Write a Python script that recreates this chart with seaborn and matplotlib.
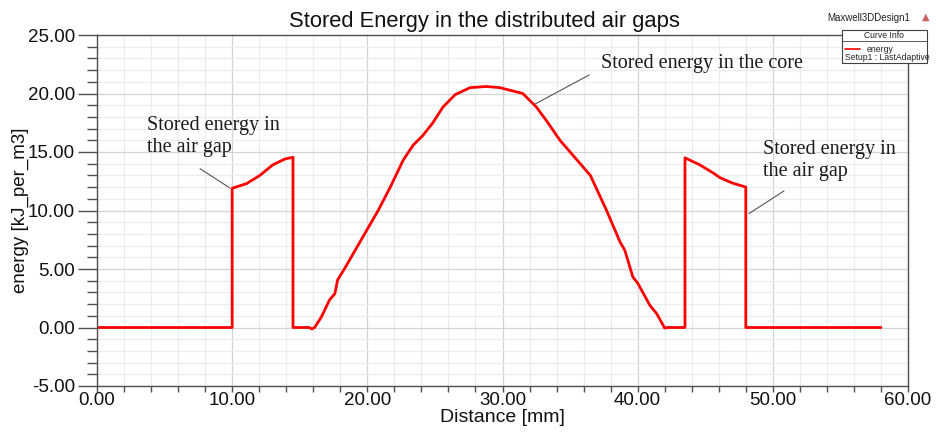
import matplotlib
matplotlib.use("Agg")
import matplotlib.pyplot as plt
import seaborn as sns
import pandas as pd
from matplotlib.ticker import MultipleLocator, FormatStrFormatter
from matplotlib.patches import Rectangle
from matplotlib.lines import Line2D

# ---- data ----
distance = [0.0, 10.0, 10.0, 11.07, 12.05, 13.0, 13.9, 14.5, 14.5, 15.7, 15.9, 16.1,
            16.6, 17.2, 17.6, 17.8, 18.3, 19.0, 20.0, 20.8, 21.7, 22.65, 23.4, 24.1,
            24.85, 25.6, 26.5, 27.6, 28.8, 29.8, 31.5, 32.5, 33.3, 34.25, 35.0, 36.5,
            37.7, 38.7, 39.05, 39.65, 40.0, 40.9, 41.4, 42.0, 42.2, 43.5, 43.5, 44.6,
            45.6, 46.1, 47.0, 48.0, 48.0, 58.0]
energy = [0.0, 0.0, 11.9, 12.3, 13.0, 13.9, 14.4, 14.55, 0.0, 0.0, -0.13, 0.0,
          0.9, 2.35, 2.9, 4.06, 5.0, 6.4, 8.4, 10.0, 12.0, 14.3, 15.6, 16.4,
          17.5, 18.85, 19.9, 20.5, 20.6, 20.5, 20.0, 18.85, 17.6, 16.0, 15.0, 13.0,
          10.0, 7.3, 6.6, 4.3, 3.8, 1.9, 1.2, -0.05, 0.0, 0.0, 14.5, 13.9,
          13.2, 12.8, 12.35, 12.0, 0.0, 0.0]

title = "Stored Energy in the distributed air gaps"
xlabel = "Distance [mm]"
ylabel = "energy [kJ_per_m3]"
ann_airgap = "Stored energy in\nthe air gap"
ann_core = "Stored energy in the core"

df = pd.DataFrame({"Distance": distance, "energy": energy})

sns.set_style("white")
plt.rcParams["font.family"] = ["Liberation Sans", "DejaVu Sans"]

W, H = 936, 432
fig = plt.figure(figsize=(W / 100, H / 100), dpi=100)
ax = fig.add_axes([97 / W, 1 - 386 / H, (908 - 97) / W, (386 - 35) / H])

sns.lineplot(data=df, x="Distance", y="energy", ax=ax, estimator=None, sort=False,
             color="#ff0000", lw=2.0)

ax.set_xlim(0, 60)
ax.set_ylim(-5, 25)
ax.xaxis.set_major_locator(MultipleLocator(10))
ax.xaxis.set_minor_locator(MultipleLocator(2))
ax.yaxis.set_major_locator(MultipleLocator(5))
ax.yaxis.set_minor_locator(MultipleLocator(1))
ax.xaxis.set_major_formatter(FormatStrFormatter("%.2f"))
ax.yaxis.set_major_formatter(FormatStrFormatter("%.2f"))

ax.grid(True, which="major", color="#d4d4d4", lw=0.9)
ax.grid(True, which="minor", color="#ececec", lw=0.9)
ax.set_axisbelow(True)

for s in ax.spines.values():
    s.set_color("#505050")
    s.set_linewidth(1.0)

ax.tick_params(axis="both", which="major", labelsize=13.5, colors="#505050",
               labelcolor="#111111", direction="out")
ax.tick_params(axis="y", which="major", length=14, width=1.0, pad=2)
ax.tick_params(axis="y", which="minor", length=7, width=1.0, color="#505050")
ax.tick_params(axis="x", which="major", length=4, width=1.0, pad=0)
ax.tick_params(axis="x", which="minor", length=4, width=1.0, color="#505050")
ax.tick_params(bottom=True, left=True, which="both")

ax.set_xlabel(xlabel, fontsize=14, color="#111111")
ax.xaxis.set_label_coords(0.5, -0.09)
ax.xaxis.label.set_va("center")
ax.set_ylabel(ylabel, fontsize=13.5, color="#111111")
ax.yaxis.set_label_coords(-0.094, 0.5)
ax.yaxis.label.set_va("center")
ax.set_title(title, fontsize=15.8, pad=6, color="#111111", x=0.478)

# annotations
serif = ["Liberation Serif", "DejaVu Serif"]
line_kw = dict(arrowstyle="-", color="#555555", lw=0.8)
ax.text(3.7, 18.1, ann_airgap, fontsize=14.5, family=serif, va="top", ha="left",
        linespacing=1.2, color="#1a1a1a")
ax.annotate("", xy=(10.0, 11.8), xytext=(7.45, 13.7), arrowprops=line_kw)
ax.text(49.3, 16.0, ann_airgap, fontsize=14.5, family=serif, va="top", ha="left",
        linespacing=1.2, color="#1a1a1a")
ax.annotate("", xy=(48.05, 9.6), xytext=(51.0, 11.8), arrowprops=line_kw)
ax.text(37.3, 22.6, ann_core, fontsize=14.5, family=serif, va="center", ha="left",
        color="#1a1a1a")
ax.annotate("", xy=(32.25, 19.0), xytext=(36.6, 21.7), arrowprops=line_kw)

# Curve info box (figure pixel coordinates)
def fx(x):
    return x / W

def fy(y):
    return 1 - y / H

fig.text(fx(869), fy(18), "Maxwell3DDesign1", fontsize=7, ha="center", va="center",
         color="#222222")
fig.text(fx(926), fy(17), "\u25b2", fontsize=7, ha="center", va="center",
         color="#d06060", family=["DejaVu Sans"])
fig.add_artist(Rectangle((fx(842), fy(63)), fx(927) - fx(842), fy(30) - fy(63),
                         transform=fig.transFigure, fill=True, facecolor="white",
                         edgecolor="#404040", lw=0.8, zorder=5))
fig.add_artist(Line2D([fx(842), fx(927)], [fy(41), fy(41)], transform=fig.transFigure,
                      color="#404040", lw=0.6, zorder=6))
fig.text(fx(884), fy(35.5), "Curve Info", fontsize=6.2, ha="center", va="center",
         color="#222222", zorder=7)
fig.add_artist(Line2D([fx(845), fx(860)], [fy(49), fy(49)], transform=fig.transFigure,
                      color="#ff0000", lw=1.2, zorder=6))
fig.text(fx(867), fy(49), "energy", fontsize=6.2, ha="left", va="center",
         color="#222222", zorder=7)
fig.text(fx(845), fy(58), "Setup1 : LastAdaptive", fontsize=6.2, ha="left", va="center",
         color="#222222", zorder=7)

fig.savefig("out.png", dpi=100, facecolor="white")
